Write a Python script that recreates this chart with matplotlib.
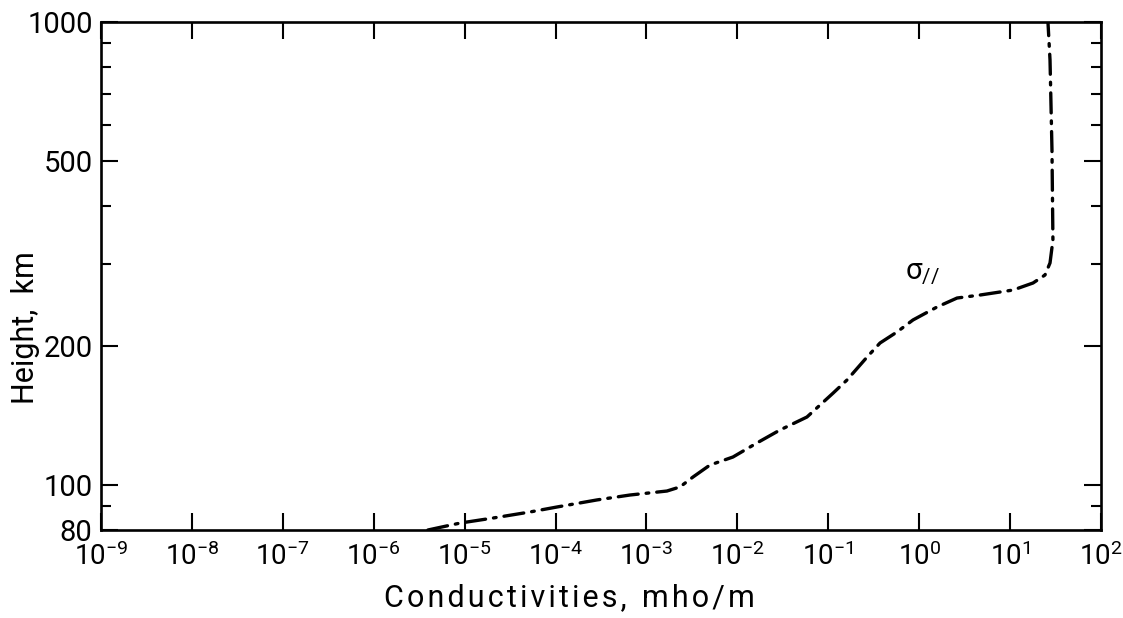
import matplotlib
matplotlib.use('Agg')
import matplotlib.pyplot as plt
import matplotlib.ticker as ticker
import numpy as np

plt.rcParams['font.family'] = ['Roboto', 'DejaVu Sans']
plt.rcParams['mathtext.fontset'] = 'custom'
plt.rcParams['mathtext.rm'] = 'Roboto'
plt.rcParams['mathtext.it'] = 'Roboto:italic'
plt.rcParams['mathtext.default'] = 'regular'

# parallel conductivity profile
sigma_par = [3.95e-6, 8.9e-6, 2.05e-5, 5.24e-5, 1.04e-4, 2.86e-4, 6.6e-4,
             1.68e-3, 2.34e-3, 3.25e-3, 5.0e-3, 8.95e-3, 1.64e-2, 2.94e-2,
             5.83e-2, 0.113, 0.161, 0.267, 0.371, 0.570, 0.855, 1.57, 2.61,
             4.67, 10.8, 17.9, 24.2, 27.5, 29.6, 28.9, 27.5, 26.1]
height = [80, 82.8, 84.9, 87.5, 89.7, 92.9, 95.2, 97.1, 99.1, 104.1, 110.5,
          115, 123.3, 131.5, 140.3, 158, 168.7, 189, 202.7, 214.1, 227.3,
          242.4, 253.5, 257.3, 263.8, 273.2, 284.2, 301.8, 338.2, 529, 828, 1000]

x_ticks = [10.0**e for e in range(-9, 3)]
x_labels = ['$10^{%d}$' % e for e in range(-9, 3)]
y_major = [80, 100, 200, 500, 1000]
y_minor = [90, 300, 400, 600, 700, 800, 900]

fig = plt.figure(figsize=(11.23, 6.18), dpi=100)
ax = fig.add_axes([0.0899, 0.1424, 0.8905, 0.822])

ax.plot(sigma_par, height, color='black', lw=2.4,
        linestyle=(0, (6, 2.4, 0.8, 2.4)), dash_capstyle='round')

ax.set_xscale('log')
ax.set_yscale('log')
ax.set_xlim(1e-9, 1e2)
ax.set_ylim(80, 1000)

ax.xaxis.set_major_locator(ticker.FixedLocator(x_ticks))
ax.xaxis.set_major_formatter(ticker.FixedFormatter(x_labels))
ax.xaxis.set_minor_locator(ticker.NullLocator())
ax.yaxis.set_major_locator(ticker.FixedLocator(y_major))
ax.yaxis.set_major_formatter(ticker.FixedFormatter([str(v) for v in y_major]))
ax.yaxis.set_minor_locator(ticker.FixedLocator(y_minor))
ax.yaxis.set_minor_formatter(ticker.NullFormatter())

ax.tick_params(which='both', direction='in', top=True, right=True,
               width=1.5, color='black')
ax.tick_params(which='major', length=12.5)
ax.tick_params(which='minor', length=7)
ax.tick_params(axis='x', pad=9, labelsize=20)
ax.tick_params(axis='y', pad=6, labelsize=21)

for s in ax.spines.values():
    s.set_linewidth(1.9)

# the original lettering is widely spaced, hair spaces between letters
hair = '\u200a'
xlabel = hair.join('Conductivities,') + '  ' + hair.join('mho/m')
ax.set_xlabel(xlabel, fontsize=22)
ax.xaxis.set_label_coords(0.468, -0.105)
ax.set_ylabel('Height,  km', fontsize=22)
ax.yaxis.set_label_coords(-0.061, 0.399)

ax.text(0.70, 278, r'$\sigma_{//}$', fontsize=21, ha='left', va='baseline')

fig.savefig('out.png', dpi=100)
